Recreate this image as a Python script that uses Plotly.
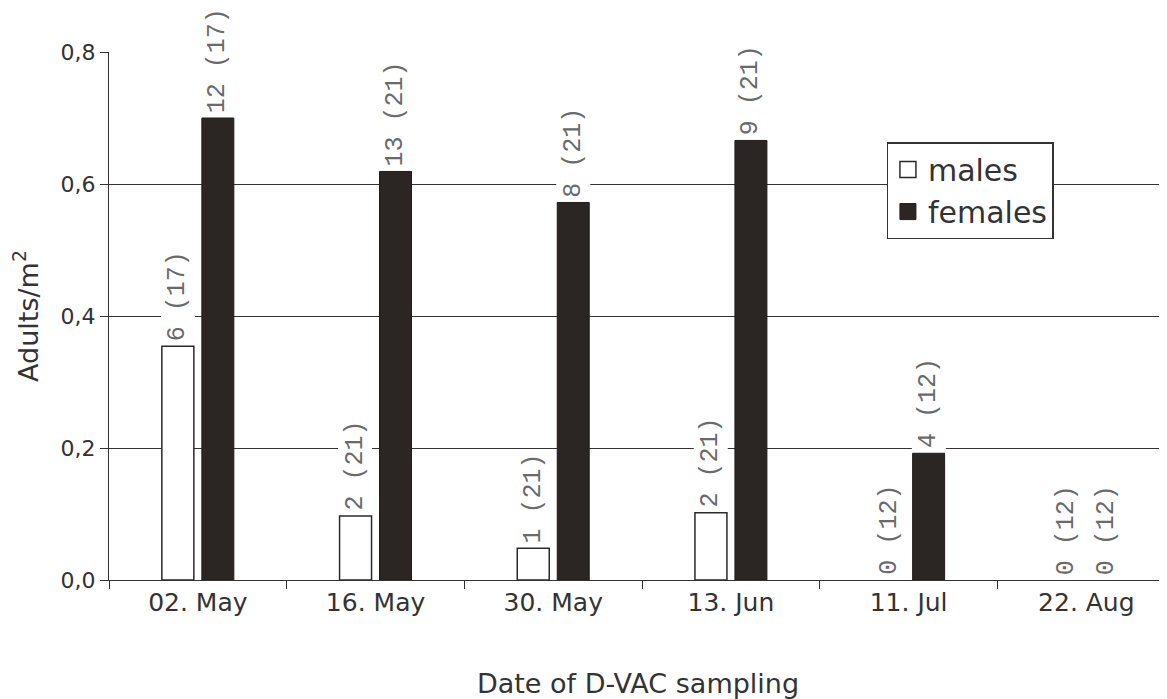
import plotly.graph_objects as go

dates = ["02. May", "16. May", "30. May", "13. Jun", "11. Jul", "22. Aug"]
males = [0.354, 0.097, 0.048, 0.102, 0.0, 0.0]
females = [0.700, 0.619, 0.572, 0.666, 0.192, 0.0]
male_counts = [6, 2, 1, 2, 0, 0]
female_counts = [12, 13, 8, 9, 4, 0]
samples = [17, 21, 21, 21, 12, 12]

FONT = "DejaVu Sans"
TXT = "#333333"
ANN_FONT = dict(family="Liberation Mono", size=25, color="#6a6a6a")

fig = go.Figure()
fig.add_trace(go.Bar(
    x=dates, y=males, name="males", showlegend=False,
    marker=dict(color="white",
                line=dict(color="#2a2a2a", width=[1.5 if v > 0 else 0 for v in males])),
))
fig.add_trace(go.Bar(
    x=dates, y=females, name="females", showlegend=False,
    marker=dict(color="#2b2523",
                line=dict(color="#221c1a", width=[1 if v > 0 else 0 for v in females])),
))
# legend entries
fig.add_trace(go.Scatter(
    x=[None], y=[None], mode="markers", name="males",
    marker=dict(symbol="square", size=19, color="white", line=dict(color="#2a2a2a", width=1.5)),
))
fig.add_trace(go.Scatter(
    x=[None], y=[None], mode="markers", name="females",
    marker=dict(symbol="square", size=19, color="#2b2523", line=dict(color="#221c1a", width=1)),
))

annotations = []
for d, v, c, n in zip(dates, males, male_counts, samples):
    annotations.append(dict(
        x=d, y=v, xref="x", yref="y", xshift=-20, yshift=2,
        text=f"{c} ({n})", showarrow=False, textangle=-90,
        xanchor="center", yanchor="bottom",
        font=ANN_FONT, bgcolor="white", borderpad=2,
    ))
for d, v, c, n in zip(dates, females, female_counts, samples):
    annotations.append(dict(
        x=d, y=v, xref="x", yref="y", xshift=20, yshift=2,
        text=f"{c} ({n})", showarrow=False, textangle=-90,
        xanchor="center", yanchor="bottom",
        font=ANN_FONT, bgcolor="white", borderpad=2,
    ))

fig.update_layout(
    width=1159, height=691,
    margin=dict(l=101, r=0, t=44, b=119, autoexpand=False),
    paper_bgcolor="white", plot_bgcolor="white",
    barmode="group", bargap=0.55, bargroupgap=0.2,
    font=dict(family=FONT, color=TXT),
    annotations=annotations,
    legend=dict(
        x=0.735, y=0.829, xanchor="left", yanchor="top",
        bgcolor="white", bordercolor="#333333", borderwidth=1.3,
        font=dict(family=FONT, size=30, color=TXT),
        itemwidth=30, tracegroupgap=0,
    ),
    xaxis=dict(
        type="category", range=[-0.5, 5.454], automargin=False,
        showline=True, linecolor="#333333", linewidth=1.3,
        ticks="outside", tickson="boundaries", ticklen=8, tickcolor="#333333", tickwidth=1.3,
        showgrid=False, tickfont=dict(family=FONT, size=25, color=TXT),
        title=dict(text="Date of D-VAC sampling", font=dict(family=FONT, size=27, color=TXT), standoff=64),
        fixedrange=True,
    ),
    yaxis=dict(
        range=[0, 0.8], tickvals=[0, 0.2, 0.4, 0.6, 0.8],
        ticktext=["0,0", "0,2", "0,4", "0,6", "0,8"], automargin=False,
        showline=True, linecolor="#333333", linewidth=1.3,
        ticks="outside", ticklen=8, tickcolor="#333333", tickwidth=1.3,
        showgrid=True, gridcolor="#333333", gridwidth=1.2, zeroline=False,
        tickfont=dict(family=FONT, size=22, color=TXT),
        title=dict(text="Adults/m<sup>2</sup>", font=dict(family=FONT, size=27, color=TXT), standoff=14),
        fixedrange=True,
    ),
)

fig.write_html("out.html")
